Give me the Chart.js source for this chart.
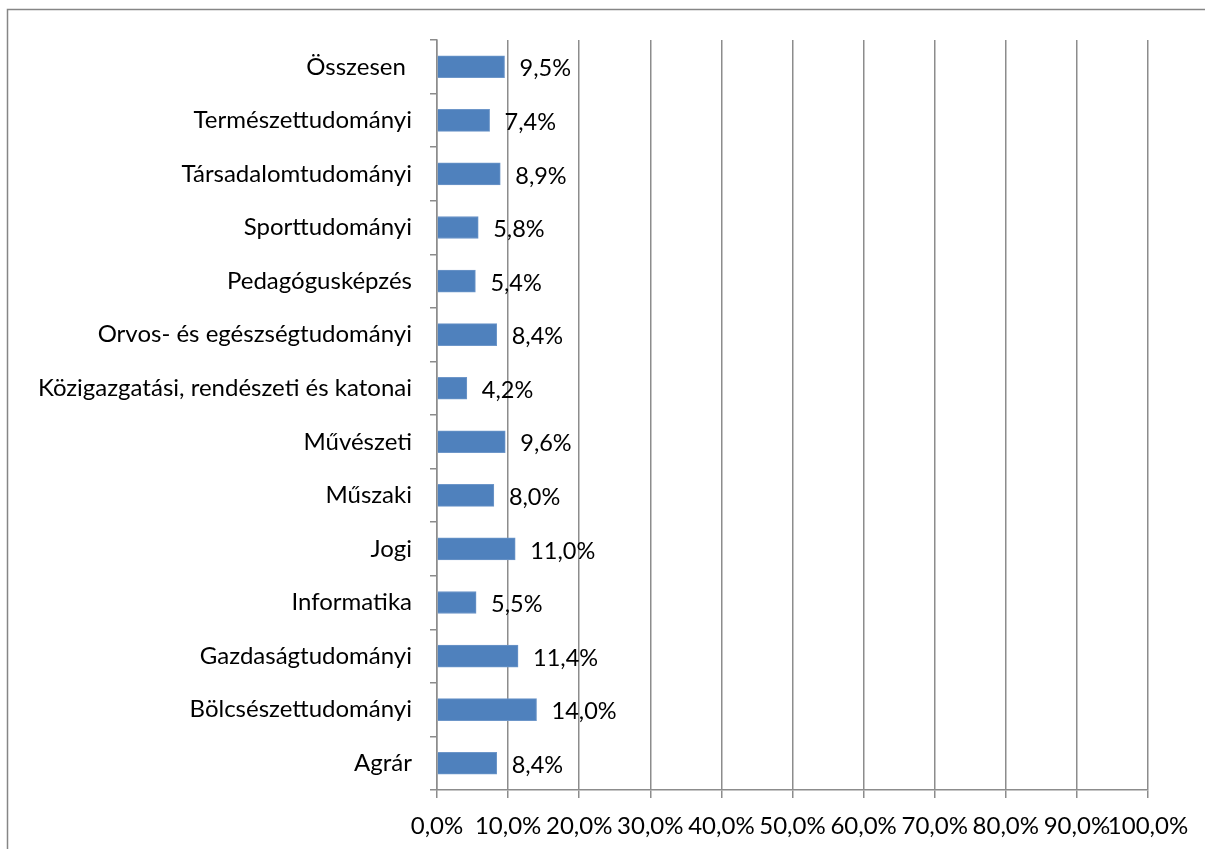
<!DOCTYPE html>
<html>
<head>
<meta charset="utf-8">
<script src="https://cdn.jsdelivr.net/npm/chart.js@4/dist/chart.umd.min.js"></script>
<style>
  html, body { margin: 0; padding: 0; background: #fff; }
  canvas { display: block; }
</style>
</head>
<body>
<canvas id="chart" width="1205" height="849"></canvas>
<script>
const categories = [
    "Összesen ",
    "Természettudományi",
    "Társadalomtudományi",
    "Sporttudományi",
    "Pedagógusképzés",
    "Orvos- és egészségtudományi",
    "Közigazgatási, rendészeti és katonai",
    "Művészeti",
    "Műszaki",
    "Jogi",
    "Informatika",
    "Gazdaságtudományi",
    "Bölcsészettudományi",
    "Agrár",
];
const shares = [9.5, 7.4, 8.9, 5.8, 5.4, 8.4, 4.2, 9.6, 8.0, 11.0, 5.5, 11.4, 14.0, 8.4];

const FONT = "Lato, 'Open Sans', sans-serif";
const fmt = (v) => v.toFixed(1).replace(".", ",") + "%";

// gray frame round the whole chart, cut off on the right and bottom like the original
const framePlugin = {
    id: "frame",
    beforeDraw(chart) {
        const ctx = chart.ctx;
        ctx.save();
        ctx.strokeStyle = "#868686";
        ctx.lineWidth = 1.5;
        ctx.strokeRect(7.5, 9.5, 1400, 1000);
        ctx.restore();
    },
};

const valueLabels = {
    id: "valueLabels",
    afterDatasetsDraw(chart) {
        const ctx = chart.ctx;
        const meta = chart.getDatasetMeta(0);
        ctx.save();
        ctx.font = "23.5px " + FONT;
        ctx.fillStyle = "#000";
        ctx.textAlign = "left";
        ctx.textBaseline = "middle";
        meta.data.forEach((bar, i) => {
            ctx.fillText(fmt(shares[i]), bar.x + 15, bar.y + 2);
        });
        ctx.restore();
    },
};

new Chart(document.getElementById("chart"), {
    type: "bar",
    data: {
        labels: categories,
        datasets: [
            {
                data: shares,
                backgroundColor: "#4F81BD",
                borderColor: "#6d96c9",
                borderWidth: 1,
                barThickness: 22,
            },
        ],
    },
    options: {
        indexAxis: "y",
        responsive: false,
        animation: false,
        layout: { padding: { top: 40, right: 57, left: 0, bottom: 0 } },
        plugins: {
            legend: { display: false },
            tooltip: { enabled: false },
        },
        scales: {
            x: {
                min: 0,
                max: 100,
                afterFit(scale) {
                    scale.height = 59;
                },
                ticks: {
                    stepSize: 10,
                    autoSkip: false,
                    maxRotation: 0,
                    padding: 14,
                    color: "#000",
                    font: { family: FONT, size: 24 },
                    callback: (v) => fmt(v),
                },
                grid: {
                    color: "#8c8c8c",
                    lineWidth: 1.5,
                    tickLength: 8,
                },
                border: { color: "#8c8c8c", width: 1.5 },
            },
            y: {
                afterFit(scale) {
                    scale.width = 437;
                },
                ticks: {
                    padding: 18,
                    color: "#000",
                    font: { family: FONT, size: 24 },
                },
                grid: {
                    drawOnChartArea: false,
                    color: "#8c8c8c",
                    lineWidth: 1.5,
                    tickLength: 7,
                },
                border: { color: "#8c8c8c", width: 1.5 },
            },
        },
    },
    plugins: [framePlugin, valueLabels],
});
</script>
</body>
</html>
